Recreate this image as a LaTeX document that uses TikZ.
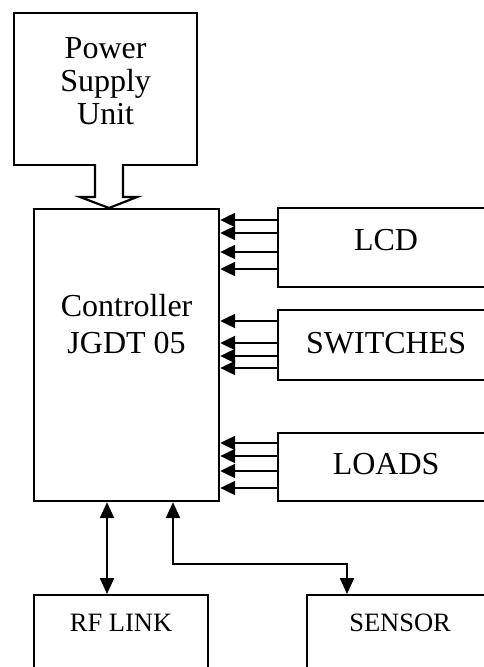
\documentclass[tikz,border=0pt]{standalone}
\usepackage{fontspec}
\setmainfont{Liberation Serif}
\usetikzlibrary{arrows.meta}
\begin{document}
\begin{tikzpicture}[x=1pt, y=-1pt, line width=2.2pt,
    blk/.style={draw, inner sep=0pt, anchor=north west, align=center, font=\fontsize{32}{33}\selectfont},
    smallblk/.style={blk, font=\fontsize{26.5}{28}\selectfont},
    sig/.style={-{Triangle[length=15pt,width=14pt]}},
    bisig/.style={{Triangle[length=16pt,width=14pt]}-{Triangle[length=16pt,width=14pt]}}]
    \useasboundingbox (0,0) rectangle (484,667);
    \clip (0,0) rectangle (484,667);
    % Blocks
    \node[blk, minimum width=183pt, text height=111pt, text depth=41pt] (psu) at (13,12) {Power\\Supply\\Unit};
    \node[blk, minimum width=185pt, text height=144pt, text depth=148pt] (ctrl) at (33,208) {Controller\\[4pt]JGDT 05};
    \node[blk, minimum width=216pt, text height=42pt, text depth=37pt] (lcd) at (277,207) {LCD};
    \node[blk, minimum width=216pt, text height=43pt, text depth=27pt] (sw) at (277,309) {SWITCHES};
    \node[blk, minimum width=216pt, text height=41pt, text depth=27pt] (loads) at (277,432) {LOADS};
    \node[smallblk, minimum width=174pt, text height=36pt, text depth=80pt] (rf) at (33,594) {RF LINK};
    \node[smallblk, minimum width=186pt, text height=36pt, text depth=80pt] (sens) at (306,594) {SENSOR};
    % Supply arrow
    \draw[fill=white, line join=miter] (95,164) |- (80,197) -- (109,208) -- (137,197) -| (123,164);
    % Port lines into the controller
    \foreach \y in {220,233,252,269}
        \draw[sig] (lcd.west |- 0,\y) -- (ctrl.east |- 0,\y);
    \foreach \y in {321,343,356,368}
        \draw[sig] (sw.west |- 0,\y) -- (ctrl.east |- 0,\y);
    \foreach \y in {443,456,471,488}
        \draw[sig] (loads.west |- 0,\y) -- (ctrl.east |- 0,\y);
    % Bottom links
    \draw[bisig] (ctrl.south -| 107,0) -- (rf.north -| 107,0);
    \draw[bisig] (ctrl.south -| 173,0) -- (173,564) -| (sens.north -| 347,0);
\end{tikzpicture}
\end{document}
